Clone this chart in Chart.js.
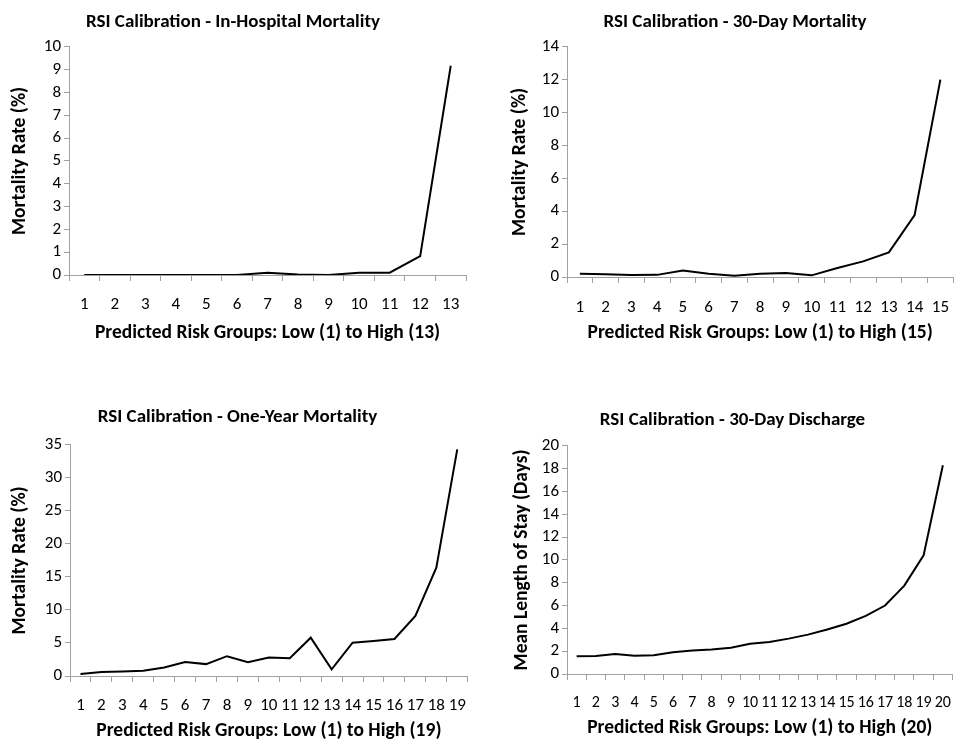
<!DOCTYPE html>
<html>
<head>
<meta charset="utf-8">
<script src="https://cdn.jsdelivr.net/npm/chart.js@4"></script>
<style>
  body { margin: 0; background: #fff; }
  .box { position: absolute; }
</style>
</head>
<body>
<div class="box" style="left:0;top:0"><canvas id="hospital" width="480" height="350"></canvas></div>
<div class="box" style="left:480px;top:0"><canvas id="thirtyDay" width="484" height="350"></canvas></div>
<div class="box" style="left:0;top:388px"><canvas id="oneYear" width="480" height="353"></canvas></div>
<div class="box" style="left:480px;top:388px"><canvas id="discharge" width="484" height="353"></canvas></div>
<script>
const groupsHospital = ['1','2','3','4','5','6','7','8','9','10','11','12','13'];
const hospitalMortality = [0, 0, 0, 0, 0, 0, 0.1, 0.02, 0, 0.1, 0.1, 0.83, 9.17];
const hospitalTicks = [0, 1, 2, 3, 4, 5, 6, 7, 8, 9, 10];

const groupsThirtyDay = ['1','2','3','4','5','6','7','8','9','10','11','12','13','14','15'];
const thirtyDayMortality = [0.2, 0.17, 0.12, 0.13, 0.4, 0.2, 0.08, 0.2, 0.25, 0.1, 0.55, 0.95, 1.5, 3.77, 12.0];
const thirtyDayTicks = [0, 2, 4, 6, 8, 10, 12, 14];

const groupsOneYear = ['1','2','3','4','5','6','7','8','9','10','11','12','13','14','15','16','17','18','19'];
const oneYearMortality = [0.3, 0.6, 0.7, 0.8, 1.3, 2.1, 1.8, 3.0, 2.1, 2.8, 2.7, 5.8, 1.0, 5.05, 5.3, 5.6, 9.1, 16.4, 34.3];
const oneYearTicks = [0, 5, 10, 15, 20, 25, 30, 35];

const groupsDischarge = ['1','2','3','4','5','6','7','8','9','10','11','12','13','14','15','16','17','18','19','20'];
const meanLengthOfStay = [1.55, 1.57, 1.75, 1.6, 1.65, 1.9, 2.05, 2.15, 2.3, 2.65, 2.8, 3.1, 3.45, 3.9, 4.4, 5.1, 6.0, 7.75, 10.4, 18.3];
const dischargeTicks = [0, 2, 4, 6, 8, 10, 12, 14, 16, 18, 20];

const FONT = "Carlito, Lato, 'Open Sans', sans-serif";
const AXIS = '#a0a0a0';

function makeChart(id, c) {
  return new Chart(document.getElementById(id), {
    type: 'line',
    data: {
      labels: c.labels,
      datasets: [{
        data: c.values,
        borderColor: '#000',
        borderWidth: 2,
        pointRadius: 0,
        tension: 0,
        fill: false
      }]
    },
    options: {
      responsive: false,
      animation: false,
      layout: { padding: { left: c.padLeft, right: c.padRight, top: 0, bottom: 0 } },
      plugins: {
        legend: { display: false },
        tooltip: { enabled: false },
        title: {
          display: true,
          text: c.title,
          color: '#000',
          font: { family: FONT, size: 19, weight: 'bold', lineHeight: 1.2 },
          padding: c.titlePad
        }
      },
      scales: {
        x: {
          offset: true,
          grid: { offset: true, drawOnChartArea: false, tickLength: 6, color: AXIS },
          border: { color: AXIS },
          ticks: {
            color: '#000', autoSkip: false, maxRotation: 0,
            font: { family: FONT, size: c.xTickSize },
            padding: c.xTickPad
          },
          title: {
            display: true, text: c.xTitle, color: '#000',
            font: { family: FONT, size: 19.5, weight: 'bold', lineHeight: 1 },
            padding: { top: 0, bottom: c.xTitleBottom }
          },
          afterFit: s => { s.height = c.xHeight; }
        },
        y: {
          min: 0,
          max: c.yMax,
          grid: { drawOnChartArea: false, tickLength: 5, color: AXIS },
          border: { color: AXIS },
          afterBuildTicks: s => { s.ticks = c.yTicks.map(v => ({ value: v })); },
          ticks: {
            color: '#000', autoSkip: false,
            font: { family: FONT, size: 17, lineHeight: 1 },
            padding: 3
          },
          title: {
            display: true, text: c.yTitle, color: '#000',
            font: { family: FONT, size: 19.5, weight: 'bold', lineHeight: 1 },
            padding: { top: c.yTitleLeft, bottom: 0 }
          },
          afterFit: s => { s.width = c.yWidth; }
        }
      }
    }
  });
}

makeChart('hospital', {
  labels: groupsHospital, values: hospitalMortality, yTicks: hospitalTicks,
  title: 'RSI Calibration - In-Hospital Mortality',
  xTitle: 'Predicted Risk Groups: Low (1) to High (13)',
  yTitle: 'Mortality Rate (%)',
  yMax: 10,
  padLeft: 0, padRight: 14, yWidth: 69, yTitleLeft: 10,
  titlePad: { top: 11, bottom: 13 },
  xHeight: 75, xTickPad: 14, xTickSize: 17, xTitleBottom: 7
});

makeChart('thirtyDay', {
  labels: groupsThirtyDay, values: thirtyDayMortality, yTicks: thirtyDayTicks,
  title: 'RSI Calibration - 30-Day Mortality',
  xTitle: 'Predicted Risk Groups: Low (1) to High (15)',
  yTitle: 'Mortality Rate (%)',
  yMax: 14,
  padLeft: 26, padRight: 0, yWidth: 61, yTitleLeft: 4,
  titlePad: { top: 11, bottom: 13 },
  xHeight: 73, xTickPad: 15, xTickSize: 17, xTitleBottom: 7
});

makeChart('oneYear', {
  labels: groupsOneYear, values: oneYearMortality, yTicks: oneYearTicks,
  title: 'RSI Calibration - One-Year Mortality',
  xTitle: 'Predicted Risk Groups: Low (1) to High (19)',
  yTitle: 'Mortality Rate (%)',
  yMax: 35,
  padLeft: 0, padRight: 5, yWidth: 70, yTitleLeft: 10,
  titlePad: { top: 18, bottom: 16 },
  xHeight: 65, xTickPad: 14, xTickSize: 17, xTitleBottom: 0
});

makeChart('discharge', {
  labels: groupsDischarge, values: meanLengthOfStay, yTicks: dischargeTicks,
  title: 'RSI Calibration - 30-Day Discharge',
  xTitle: 'Predicted Risk Groups: Low (1) to High (20)',
  yTitle: 'Mean Length of Stay (Days)',
  yMax: 20,
  padLeft: 22, padRight: 1, yWidth: 65, yTitleLeft: 10,
  titlePad: { top: 21, bottom: 14 },
  xHeight: 67, xTickPad: 13, xTickSize: 16, xTitleBottom: 3
});
</script>
</body>
</html>
